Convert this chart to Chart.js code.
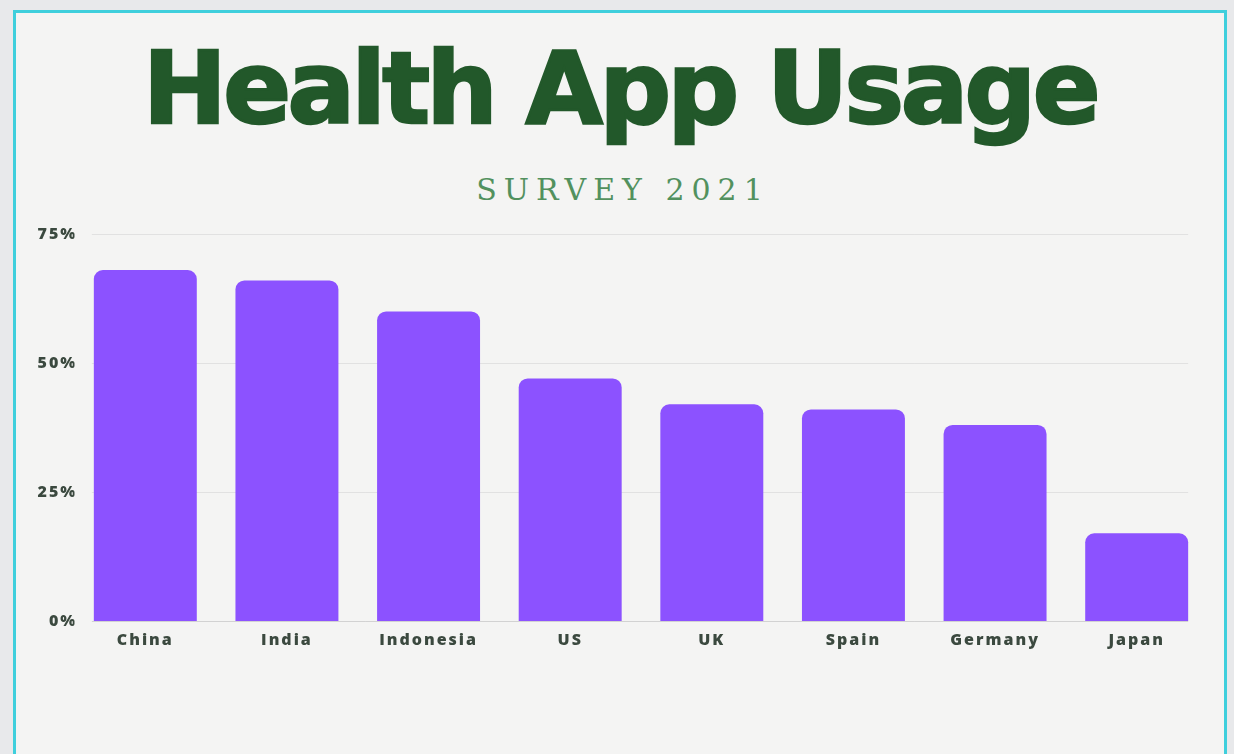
<!DOCTYPE html>
<html>
<head>
<meta charset="utf-8">
<script src="https://cdn.jsdelivr.net/npm/chart.js@4/dist/chart.umd.min.js"></script>
<style>
  html, body { margin: 0; padding: 0; }
  body { width: 1234px; height: 754px; background: #e8e9eb; position: relative; overflow: hidden; }
  #frame { position: absolute; left: 13px; top: 10px; width: 1214px; height: 800px; box-sizing: border-box;
           border: 3px solid #3fcfdc; background: #f4f4f3; }
  #title { position: absolute; left: 0; width: 1240px; top: 39px; text-align: center;
           font-family: "DejaVu Sans", sans-serif; font-weight: bold; font-size: 100px; line-height: 1;
           color: #22582a; -webkit-text-stroke: 2.5px #22582a; letter-spacing: -3.5px; white-space: nowrap; }
  #subtitle { position: absolute; left: 0; width: 1246px; top: 175px; text-align: center;
           font-family: "DejaVu Serif", serif; font-weight: normal; font-size: 30px; line-height: 1;
           color: #52915e; letter-spacing: 7px; white-space: nowrap; }
  #wrap { position: absolute; left: 0; top: 0; width: 1234px; height: 754px; }
</style>
</head>
<body>
<div id="frame"></div>
<div id="title">Health App Usage</div>
<div id="subtitle">SURVEY 2021</div>
<div id="wrap"><canvas id="c" width="1234" height="754"></canvas></div>
<script>
const categories = ["China", "India", "Indonesia", "US", "UK", "Spain", "Germany", "Japan"];
const usagePercent = [68, 66, 60, 47, 42, 41, 38, 17];
const yTickValues = [0, 25, 50, 75];
const yTickLabels = ["0%", "25%", "50%", "75%"];

const letterSpacingPlugin = {
  id: 'letterSpacing',
  beforeUpdate(chart) { chart.ctx.letterSpacing = '2px'; },
  beforeDraw(chart) { chart.ctx.letterSpacing = '2px'; }
};

const gridPlugin = {
  id: 'barGrid',
  beforeDatasetsDraw(chart) {
    const meta = chart.getDatasetMeta(0);
    const first = meta.data[0], last = meta.data[meta.data.length - 1];
    const x0 = first.x - first.width / 2 - 2;
    const x1 = last.x + last.width / 2;
    const y = chart.scales.y;
    const ctx = chart.ctx;
    ctx.save();
    yTickValues.forEach(v => {
      const py = Math.round(y.getPixelForValue(v)) + 0.5;
      ctx.strokeStyle = v === 0 ? '#d2d2d2' : '#e1e1e1';
      ctx.lineWidth = 1;
      ctx.beginPath();
      ctx.moveTo(x0, py);
      ctx.lineTo(x1, py);
      ctx.stroke();
    });
    ctx.restore();
  }
};

new Chart(document.getElementById('c'), {
  type: 'bar',
  data: {
    labels: categories,
    datasets: [{
      data: usagePercent,
      backgroundColor: '#8c52ff',
      borderRadius: { topLeft: 9, topRight: 9, bottomLeft: 0, bottomRight: 0 },
      borderSkipped: false,
      categoryPercentage: 1,
      barPercentage: 0.727
    }]
  },
  options: {
    responsive: false,
    animation: false,
    events: [],
    layout: { padding: { left: 24.5, right: 26.5, top: 234, bottom: 93 } },
    plugins: { legend: { display: false }, tooltip: { enabled: false }, title: { display: false } },
    scales: {
      x: {
        offset: true,
        grid: { display: false, drawTicks: false },
        border: { display: false },
        ticks: {
          padding: 10,
          color: '#3b493f',
          font: { family: '"Open Sans", sans-serif', weight: 800, size: 16 },
          maxRotation: 0
        },
        afterFit(s) { s.height = 40; }
      },
      y: {
        min: 0, max: 75,
        grid: { display: false, drawTicks: false },
        border: { display: false },
        afterBuildTicks(s) { s.ticks = yTickValues.map(v => ({ value: v })); },
        ticks: {
          padding: -3,
          color: '#3b493f',
          font: { family: '"Open Sans", sans-serif', weight: 800, size: 16 },
          callback: (v) => yTickLabels[yTickValues.indexOf(v)]
        },
        afterFit(s) { s.width = 50; }
      }
    }
  },
  plugins: [letterSpacingPlugin, gridPlugin]
});
</script>
</body>
</html>
